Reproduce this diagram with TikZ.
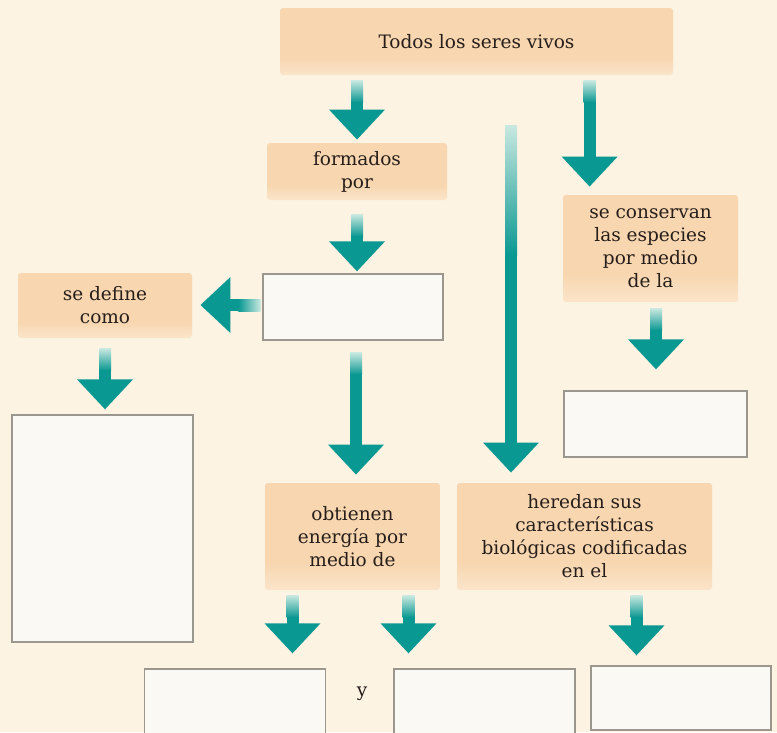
\documentclass[tikz,border=0pt]{standalone}
\usepackage{fontspec}
\setmainfont{DejaVu Serif}
\usetikzlibrary{arrows.meta,calc}

\definecolor{crema}{RGB}{252,243,227}
\definecolor{durazno}{RGB}{248,214,176}
\definecolor{verde}{RGB}{10,152,146}
\definecolor{verdeclaro}{RGB}{200,232,224}
\definecolor{borde}{RGB}{155,150,142}
\definecolor{blanco}{RGB}{251,249,244}
\definecolor{tinta}{RGB}{38,30,26}

\pgfdeclareverticalshading{duraznofade}{100bp}{color(0bp)=(crema); color(25bp)=(crema!50!durazno); color(38bp)=(durazno); color(100bp)=(durazno)}

\tikzset{every picture/.style={line width=0.75pt}}
\tikzset{
etiqueta/.style={shade, shading=duraznofade, rounded corners=3pt, inner sep=0pt, align=center, text=tinta, font=\fontsize{18.5}{23}\selectfont},
caja/.style={draw=borde, fill=blanco, line width=1.2pt, inner sep=0pt},
flecha/.style={draw=verde, line width=12pt, -{Triangle[width=54pt,length=30pt]}}
}

% flecha hacia abajo: [tramo desvanecido]{salida}{punta}
\newcommand{\flechaV}[3][22]{%
  \coordinate (ini) at (#2);
  \coordinate (fin) at (#3);
  \shade[top color=verdeclaro, bottom color=verde] ($(ini)+(-6,0)$) rectangle ($(ini)+(6,#1)$);
  \draw[flecha] ($(ini)+(0,#1-0.5)$) -- (ini |- fin);
}
% flecha hacia la izquierda
\newcommand{\flechaH}[3][22]{%
  \coordinate (ini) at (#2);
  \coordinate (fin) at (#3);
  \shade[left color=verde, right color=verdeclaro] ($(ini)+(-#1,-6)$) rectangle ($(ini)+(0,6)$);
  \draw[flecha] ($(ini)+(-#1+0.5,0)$) -- (ini -| fin);
}

\begin{document}
\begin{tikzpicture}[x=1pt,y=-1pt]
%fondo
\fill[crema] (0,0) rectangle (777,732);
\useasboundingbox (0,0) rectangle (777,732);

% Text Node
\node[etiqueta, minimum width=393pt, minimum height=67pt] (todos) at (476.5,41.5) {Todos los seres vivos};
% Text Node
\node[etiqueta, minimum width=180pt, minimum height=57pt] (formados) at (357,171.5) {formados\\por};
%Shape: Rectangle
\node[caja, minimum width=180pt, minimum height=66pt] (celulas) at (353,307) {};
% Text Node
\node[etiqueta, minimum width=174pt, minimum height=65pt] (define) at (105,305.5) {se define\\como};
%Shape: Rectangle
\node[caja, minimum width=181pt, minimum height=227pt] (definicion) at (102.5,528.5) {};
% Text Node
\node[etiqueta, minimum width=175pt, minimum height=107pt] (conservan) at (650.5,248.5) {se conservan\\las especies\\por medio\\de la};
%Shape: Rectangle
\node[caja, minimum width=183pt, minimum height=66pt] (reproduccion) at (655.5,424) {};
% Text Node
\node[etiqueta, minimum width=175pt, minimum height=107pt] (obtienen) at (352.5,536.5) {obtienen\\energía por\\medio de};
% Text Node
\node[etiqueta, minimum width=255pt, minimum height=107pt] (heredan) at (584.5,536.5) {heredan sus\\características\\biológicas codificadas\\en el};
%Shape: Rectangle
\node[caja, minimum width=181pt, minimum height=74pt] (fuenteA) at (235,706) {};
%Shape: Rectangle
\node[caja, minimum width=181pt, minimum height=74pt] (fuenteB) at (484.5,706) {};
%Shape: Rectangle
\node[caja, minimum width=180pt, minimum height=64pt] (adn) at (681,698) {};
% Text Node
\node[text=tinta, font=\fontsize{18.5}{23}\selectfont] (y) at (362,694) {y};

%Flechas
\coordinate (libre) at (511,125);
\flechaV{$(todos.south -| formados)+(0,5)$}{$(formados.north)+(0,-3)$}
\flechaV{$(todos.south -| conservan.north west)+(27,5)$}{$(conservan.north)+(0,-8)$}
\flechaV[130]{libre}{$(heredan.north)+(0,-10)$}
\flechaV{$(formados.south)+(0,14)$}{$(celulas.north)+(0,-2)$}
\flechaH{$(celulas.west)+(-2,-2)$}{$(define.east)+(8,0)$}
\flechaV{$(define.south)+(0,10)$}{$(definicion.north)+(0,-5)$}
\flechaV{$(celulas.south)+(3,12)$}{$(obtienen.north)+(0,-8)$}
\flechaV{$(conservan.south)+(5.5,6)$}{$(reproduccion.north)+(0,-21)$}
\flechaV{$(obtienen.south)+(-60,5)$}{$(fuenteA.north)+(0,-15)$}
\flechaV{$(obtienen.south)+(56,5)$}{$(fuenteB.north)+(0,-15)$}
\flechaV{$(heredan.south)+(52,5)$}{$(adn.north)+(0,-10)$}

\end{tikzpicture}
\end{document}
